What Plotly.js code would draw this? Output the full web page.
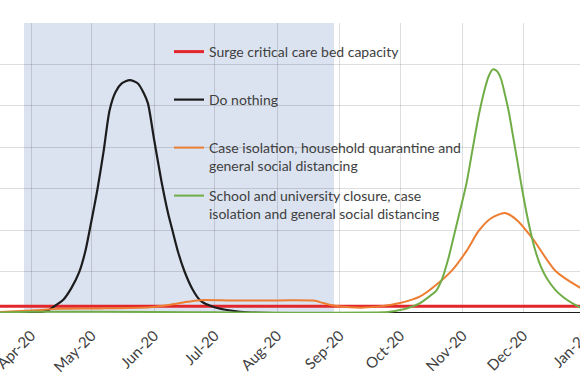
<!DOCTYPE html>
<html>
<head>
<meta charset="utf-8">
<script src="https://cdn.plot.ly/plotly-3.0.1.min.js"></script>
<style>
  html, body { margin: 0; padding: 0; overflow: hidden; background: #ffffff; width: 580px; height: 375px; }
  #chart { position: absolute; left: 0; top: 0; }
</style>
</head>
<body>
<div id="chart"></div>
<script>
// ---- Data (critical care beds occupied) ----
const seriesNames = [
  'Surge critical care bed capacity<br>\u00a0',
  'Do nothing<br>\u00a0',
  'Case isolation, household quarantine and<br>general social distancing',
  'School and university closure, case<br>isolation and general social distancing'
];

const surgeDates = ['2020-03-10', '2021-01-25'];
const surgeValues = [8, 8];

const doNothingDates = ['2020-03-10','2020-04-03','2020-04-06','2020-04-10','2020-04-13','2020-04-17','2020-04-21','2020-04-25','2020-04-28','2020-04-30','2020-05-02','2020-05-04','2020-05-07','2020-05-10','2020-05-13','2020-05-16','2020-05-20','2020-05-24','2020-05-27','2020-05-29','2020-06-01','2020-06-05','2020-06-08','2020-06-10','2020-06-13','2020-06-16','2020-06-20','2020-06-24','2020-07-01','2020-07-09','2020-07-19','2020-08-01','2020-10-01','2021-01-25'];
const doNothingValues = [0,0,1,4,9,16,30,50,75,99,124,150,195,245,267,277,281,277,265,253,210,155,120,101,73,51,29,15,7,3,0.6,0,0,0];

const caseIsoDates = ['2020-03-10','2020-03-16','2020-04-01','2020-04-15','2020-05-05','2020-05-30','2020-06-09','2020-06-16','2020-06-24','2020-07-09','2020-07-23','2020-08-07','2020-08-19','2020-08-24','2020-08-29','2020-09-06','2020-09-13','2020-09-21','2020-10-01','2020-10-11','2020-10-19','2020-10-27','2020-11-03','2020-11-09','2020-11-15','2020-11-22','2020-11-28','2020-12-06','2020-12-17','2020-12-29','2021-01-08','2021-01-18','2021-01-25'];
const caseIsoValues = [0.5,1,3,5,5.5,7,10,13,15.5,15,15,15.5,15,12,9,7,6.5,8,12,20,34,52,75,99,114,120.7,112,89,51,31,19,11,8];

const schoolDates = ['2020-03-10','2020-03-16','2020-04-01','2020-06-01','2020-09-25','2020-10-01','2020-10-06','2020-10-11','2020-10-15','2020-10-19','2020-10-22','2020-10-25','2020-10-28','2020-10-31','2020-11-03','2020-11-06','2020-11-09','2020-11-12','2020-11-14','2020-11-16','2020-11-18','2020-11-20','2020-11-22','2020-11-24','2020-11-26','2020-11-28','2020-11-30','2020-12-02','2020-12-04','2020-12-07','2020-12-10','2020-12-13','2020-12-17','2020-12-21','2020-12-26','2021-01-01','2021-01-08','2021-01-25'];
const schoolValues = [0.3,0.5,1.5,1.3,1.2,3.5,7,12,19,27,42,66,96,126,157,198,238,270,286,294,292,283,264,242,214,186,157,130,106,76,55,41,28,19,11,4,1.5,0.5];

const tickDates = ['2020-04-01','2020-05-01','2020-06-01','2020-07-01','2020-08-01','2020-09-01','2020-10-01','2020-11-01','2020-12-01','2021-01-01'];
const tickLabels = ['Apr-20','May-20','Jun-20','Jul-20','Aug-20','Sep-20','Oct-20','Nov-20','Dec-20','Jan-21'];

const interventionStart = '2020-03-28 12:00';
const interventionEnd = '2020-08-29 06:00';

// ---- Styles ----
const colors = ['#e3262b', '#1c1c1c', '#ed7d31', '#70ad47'];
const widths = [3, 2.2, 2, 2];
const allX = [surgeDates, doNothingDates, caseIsoDates, schoolDates];
const allY = [surgeValues, doNothingValues, caseIsoValues, schoolValues];

const traces = seriesNames.map((name, i) => ({
  type: 'scatter', mode: 'lines', name: name,
  x: allX[i], y: allY[i],
  line: { color: colors[i], width: widths[i], shape: 'spline', smoothing: 0.7 },
  legendgroup: 'g' + i,
  hoverinfo: 'skip'
}));

const gridColor = 'rgba(0,0,0,0.13)';
const layout = {
  width: 640, height: 375,
  margin: { l: 0, r: 20, t: 23, b: 62 },
  paper_bgcolor: '#ffffff', plot_bgcolor: '#ffffff',
  showlegend: true,
  xaxis: {
    type: 'date',
    range: ['2020-03-16 15:00', '2021-01-18 02:00'],
    tickmode: 'array', tickvals: tickDates, ticktext: tickLabels,
    tickangle: -45,
    ticklabeloverflow: 'allow',
    ticklabelstandoff: 10,
    tickfont: { family: 'Lato, Carlito, sans-serif', size: 15, color: '#404040' },
    showgrid: true, gridcolor: gridColor, gridwidth: 1,
    zeroline: false, showline: false, ticks: ''
  },
  yaxis: {
    range: [0, 350], dtick: 50, tick0: 0,
    showticklabels: false, showgrid: true, gridcolor: gridColor, gridwidth: 1,
    zeroline: false, showline: false, ticks: ''
  },
  shapes: [{
    type: 'rect', xref: 'x', yref: 'paper',
    x0: interventionStart, x1: interventionEnd, y0: 0, y1: 1,
    fillcolor: '#dbe3f1', line: { width: 0 }, layer: 'below'
  }],
  legend: {
    x: 169 / 620, y: 1 - (36 - 23) / 290, xanchor: 'left', yanchor: 'top',
    bgcolor: 'rgba(0,0,0,0)', borderwidth: 0,
    font: { family: 'Lato, Carlito, sans-serif', size: 14, color: '#404040' },
    valign: 'top', tracegroupgap: 8.6, traceorder: 'grouped'
  }
};

Plotly.newPlot('chart', traces, layout, { staticPlot: true, displayModeBar: false });
</script>
</body>
</html>
